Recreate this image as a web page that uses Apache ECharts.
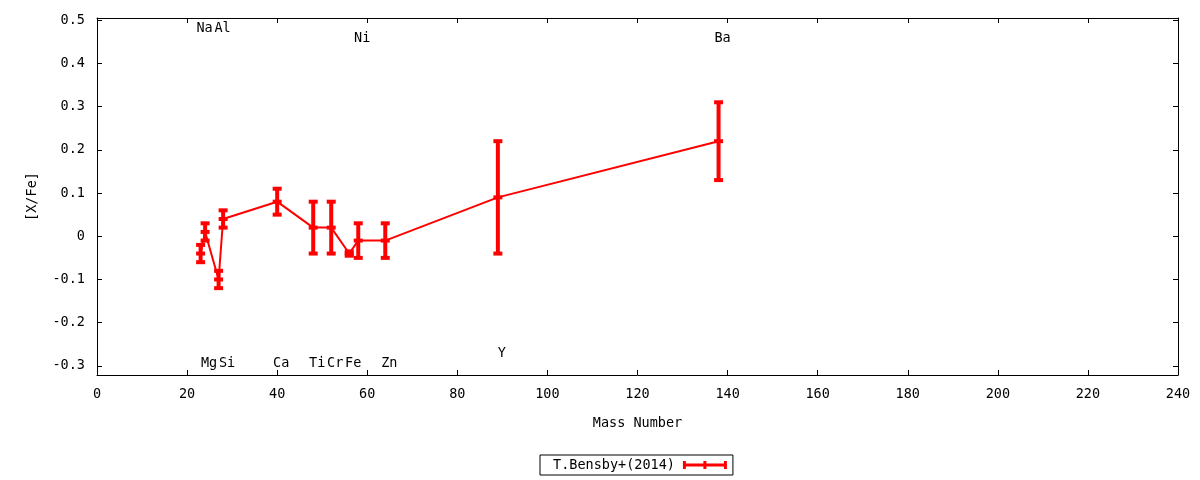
<!DOCTYPE html>
<html>
<head>
<meta charset="utf-8">
<script src="https://cdn.jsdelivr.net/npm/echarts@6/dist/echarts.min.js"></script>
<style>html,body{margin:0;padding:0;background:#fff}#c{width:1200px;height:480px}</style>
</head>
<body>
<div id="c"></div>
<script>
// ---- data ----
const elements = ['Na','Mg','Al','Si','Ca','Ti','Cr','Fe','Ni','Zn','Y','Ba'];
const massNumber = [23, 24, 27, 28, 40, 48, 52, 56, 58, 64, 89, 138];
const xFe = [-0.04, 0.01, -0.10, 0.04, 0.08, 0.02, 0.02, -0.04, -0.01, -0.01, 0.09, 0.22];
const xFeErr = [0.02, 0.02, 0.02, 0.02, 0.03, 0.06, 0.06, 0.005, 0.04, 0.04, 0.13, 0.09];
const labelY = [0.48, -0.295, 0.48, -0.295, -0.295, -0.295, -0.295, -0.295, 0.458, -0.295, -0.272, 0.458];
const xTicks = [0, 20, 40, 60, 80, 100, 120, 140, 160, 180, 200, 220, 240];
const yTicks = [-0.3, -0.2, -0.1, 0, 0.1, 0.2, 0.3, 0.4, 0.5];
const seriesName = 'T.Bensby+(2014)';

const FONT = 'DejaVu Sans Mono';
const FS = 13.5;
const RED = '#ff0000';

const pts = massNumber.map((m, i) => [m, xFe[i], xFeErr[i]]);
const labels = massNumber.map((m, i) => [m, labelY[i], elements[i]]);

function fmtY(v) {
  const r = Math.round(v * 10) / 10;
  if (!yTicks.some(t => Math.abs(t - v) < 1e-6)) return '';
  return r === 0 ? '0' : String(r);
}
function fmtX(v) {
  return xTicks.indexOf(v) >= 0 ? String(v) : '';
}

function axisCommon() {
  return {
    axisLine: { show: true, onZero: false, lineStyle: { color: '#000', width: 1 } },
    axisTick: { show: true, inside: true, length: 5, lineStyle: { color: '#000', width: 1 } },
    splitLine: { show: false }
  };
}

const chart = echarts.init(document.getElementById('c'), null, { renderer: 'canvas' });
chart.setOption({
  animation: false,
  backgroundColor: '#fff',
  grid: { left: 97, right: 22, top: 18, bottom: 105, containLabel: false },
  textStyle: { fontFamily: FONT },
  xAxis: [
    Object.assign({
      type: 'value', min: 0, max: 240, interval: 20, position: 'bottom',
      name: 'Mass Number', nameLocation: 'middle', nameGap: 41,
      nameTextStyle: { fontFamily: FONT, fontSize: FS, color: '#000' },
      axisLabel: { margin: 12, fontFamily: FONT, fontSize: FS, color: '#000', formatter: fmtX }
    }, axisCommon()),
    Object.assign({
      type: 'value', min: 0, max: 240, interval: 20, position: 'top',
      axisLabel: { show: false }
    }, axisCommon())
  ],
  yAxis: [
    Object.assign({
      type: 'value', min: -0.321, max: 0.505, minInterval: 0.1, maxInterval: 0.1, splitNumber: 8,
      position: 'left',
      name: '[X/Fe]', nameLocation: 'middle', nameGap: 58, nameRotate: 90,
      nameTextStyle: { fontFamily: FONT, fontSize: FS, color: '#000' },
      axisLabel: { margin: 12, fontFamily: FONT, fontSize: FS, color: '#000', formatter: fmtY,
                   showMinLabel: false, showMaxLabel: false }
    }, axisCommon()),
    Object.assign({
      type: 'value', min: -0.321, max: 0.505, minInterval: 0.1, maxInterval: 0.1, splitNumber: 8,
      position: 'right',
      axisLabel: { show: false }
    }, axisCommon())
  ],
  legend: {
    show: true,
    left: 540, top: 455,
    orient: 'horizontal',
    align: 'right',
    padding: [3, 6, 3, 13],
    borderColor: '#000', borderWidth: 1, borderRadius: 0,
    backgroundColor: '#fff',
    itemWidth: 44, itemHeight: 8,
    textStyle: { fontFamily: FONT, fontSize: FS, color: '#000', padding: [0, 3, 0, 0] },
    data: [{
      name: seriesName,
      icon: 'path://M0,2.5h44v3h-44z M0,0h3v8h-3z M41,0h3v8h-3z M20.5,0h3v8h-3z',
      itemStyle: { color: RED }
    }]
  },
  series: [
    {
      name: seriesName,
      type: 'line',
      data: pts.map(p => [p[0], p[1]]),
      showSymbol: false,
      symbol: 'none',
      lineStyle: { color: RED, width: 2 },
      itemStyle: { color: RED },
      z: 3
    },
    {
      name: seriesName,
      type: 'custom',
      data: pts,
      itemStyle: { color: RED },
      renderItem: function (params, api) {
        const x = api.value(0), y = api.value(1), e = api.value(2);
        const top = api.coord([x, y + e]);
        const bot = api.coord([x, y - e]);
        const mid = api.coord([x, y]);
        const capW = 9, capH = 4;
        return {
          type: 'group',
          children: [
            { type: 'line', shape: { x1: top[0], y1: top[1], x2: bot[0], y2: bot[1] },
              style: { stroke: RED, lineWidth: 4 } },
            { type: 'rect', shape: { x: top[0] - capW / 2, y: top[1] - capH / 2, width: capW, height: capH },
              style: { fill: RED } },
            { type: 'rect', shape: { x: bot[0] - capW / 2, y: bot[1] - capH / 2, width: capW, height: capH },
              style: { fill: RED } },
            { type: 'rect', shape: { x: mid[0] - capW / 2, y: mid[1] - capH / 2, width: capW, height: capH },
              style: { fill: RED } }
          ]
        };
      },
      z: 4
    },
    {
      name: 'labels',
      type: 'custom',
      data: labels,
      silent: true,
      renderItem: function (params, api) {
        const d = labels[params.dataIndex];
        const p = api.coord([d[0], d[1]]);
        return {
          type: 'text',
          x: p[0] + 4, y: p[1],
          style: { text: d[2], fill: '#000', font: FS + 'px "' + FONT + '"', textAlign: 'center', textVerticalAlign: 'middle' }
        };
      },
      z: 5
    }
  ]
});
</script>
</body>
</html>
